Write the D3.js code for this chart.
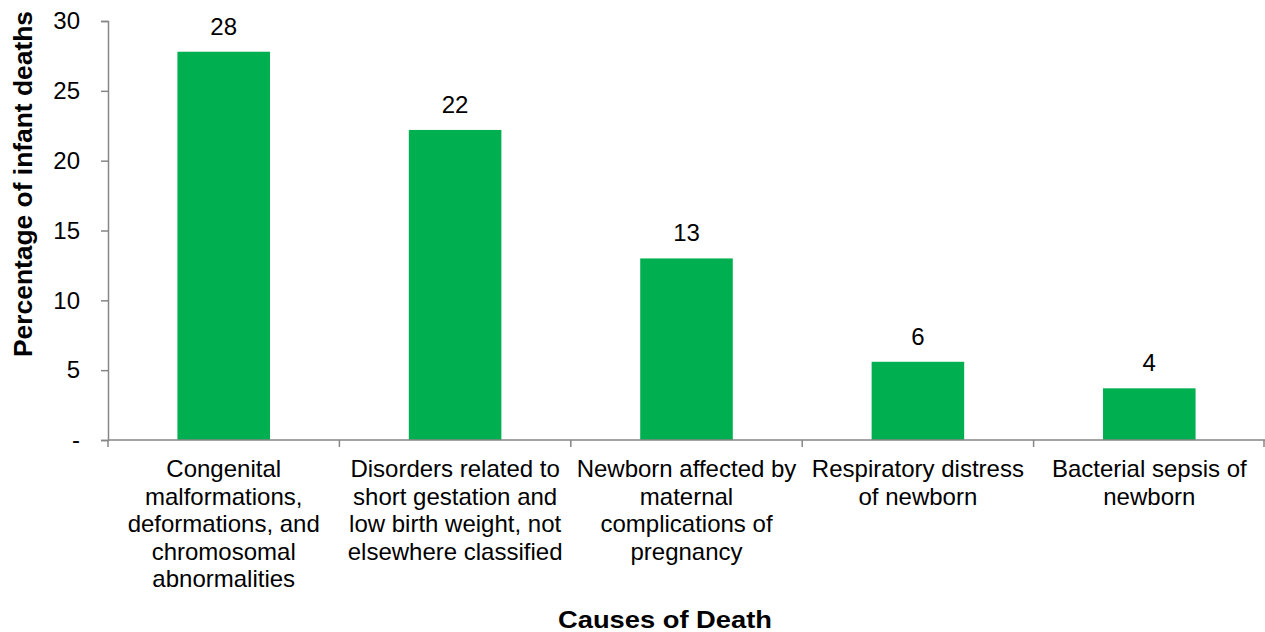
<!DOCTYPE html>
<html>
<head>
<meta charset="utf-8">
<style>
body { margin: 0; background: #fff; }
svg text { font-family: Arial, "Liberation Sans", sans-serif; fill: #000; }
</style>
</head>
<body>
<svg width="1265" height="632"></svg>
<script src="https://d3js.org/d3.v7.min.js"></script>
<script>
// causes of death, each split into the lines shown under the axis
var causes = [
    ["Congenital", "malformations,", "deformations, and", "chromosomal", "abnormalities"],
    ["Disorders related to", "short gestation and", "low birth weight, not", "elsewhere classified"],
    ["Newborn affected by", "maternal", "complications of", "pregnancy"],
    ["Respiratory distress", "of newborn"],
    ["Bacterial sepsis of", "newborn"]
];
var percents = [27.8, 22.2, 13.0, 5.6, 3.7];
var yTicks = [0, 5, 10, 15, 20, 25, 30];

var svg = d3.select("svg"),
    margin = {top: 21, right: 0, bottom: 192, left: 108},
    width = +svg.attr("width") - margin.left - margin.right,
    height = +svg.attr("height") - margin.top - margin.bottom;

var g = svg.append("g")
    .attr("transform", "translate(" + margin.left + "," + margin.top + ")");

var x = d3.scaleBand()
    .domain(d3.range(causes.length))
    .range([0, width]);

var y = d3.scaleLinear()
    .domain([0, 30])
    .range([height, 0]);

var barW = x.bandwidth() * 0.4;

// bars
g.selectAll("rect.bar")
  .data(percents)
  .enter().append("rect")
    .attr("class", "bar")
    .attr("x", function(d, i) { return x(i) + (x.bandwidth() - barW) / 2; })
    .attr("y", function(d) { return y(d); })
    .attr("width", barW)
    .attr("height", function(d) { return height - y(d); })
    .attr("fill", "#00b050");

// value labels
g.selectAll("text.val")
  .data(percents)
  .enter().append("text")
    .attr("class", "val")
    .attr("x", function(d, i) { return x(i) + x.bandwidth() / 2; })
    .attr("y", function(d) { return y(d) - 17; })
    .attr("text-anchor", "middle")
    .style("font-size", "24px")
    .text(function(d) { return Math.round(d); });

// y axis
var yAxis = g.append("g")
    .call(d3.axisLeft(y)
        .tickValues(yTicks)
        .tickSize(7)
        .tickPadding(21)
        .tickFormat(function(d) { return d === 0 ? "-" : d; }));
yAxis.selectAll("text").style("font-size", "24px").attr("fill", "#000");
yAxis.select(".domain").attr("stroke", "#868686").attr("stroke-width", 1.5);
yAxis.selectAll(".tick line").attr("stroke", "#868686").attr("stroke-width", 1.5);

// x axis with ticks at category boundaries
var xAxis = g.append("g")
    .attr("transform", "translate(0," + height + ")");
xAxis.append("line")
    .attr("x1", 0).attr("x2", width)
    .attr("stroke", "#868686").attr("stroke-width", 1.5);
xAxis.selectAll("line.bound")
  .data(d3.range(causes.length + 1))
  .enter().append("line")
    .attr("class", "bound")
    .attr("x1", function(i) { return i < causes.length ? x(i) : width - 1; })
    .attr("x2", function(i) { return i < causes.length ? x(i) : width - 1; })
    .attr("y1", 0).attr("y2", 7)
    .attr("stroke", "#868686").attr("stroke-width", 1.5);

var labels = xAxis.selectAll("text.cat")
  .data(causes)
  .enter().append("text")
    .attr("class", "cat")
    .attr("text-anchor", "middle")
    .style("font-size", "24px")
    .attr("transform", function(d, i) { return "translate(" + (x(i) + x.bandwidth() / 2) + ",37)"; });
labels.selectAll("tspan")
  .data(function(d) { return d; })
  .enter().append("tspan")
    .attr("x", 0)
    .attr("y", function(d, j) { return j * 27.5; })
    .text(function(d) { return d; });

// axis titles
svg.append("text")
    .attr("transform", "translate(32,184) rotate(-90)")
    .attr("text-anchor", "middle")
    .attr("textLength", 346)
    .attr("lengthAdjust", "spacingAndGlyphs")
    .style("font-size", "26px")
    .style("font-weight", "bold")
    .text("Percentage of infant deaths");

svg.append("text")
    .attr("x", 665)
    .attr("y", 628)
    .attr("text-anchor", "middle")
    .attr("textLength", 214)
    .attr("lengthAdjust", "spacingAndGlyphs")
    .style("font-size", "24px")
    .style("font-weight", "bold")
    .text("Causes of Death");
</script>
</body>
</html>
